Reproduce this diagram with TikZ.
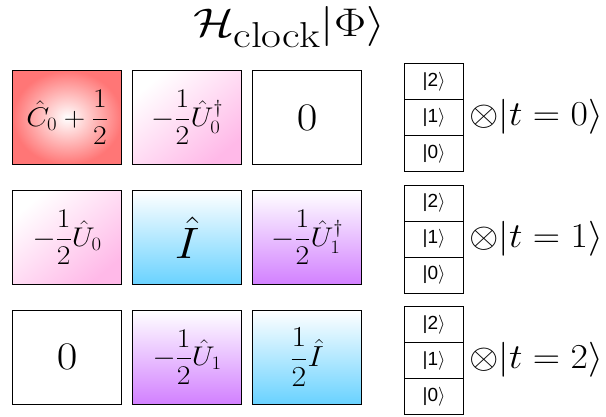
\RequirePackage{fix-cm}
\documentclass[tikz,border=0pt]{standalone}
\usepackage{amsmath}
\usepackage{graphicx}
\usepackage{fontspec}
\newfontfamily\ketfont{Liberation Sans}
\definecolor{redc}{RGB}{255,118,118}
\definecolor{pinkc}{RGB}{255,185,232}
\definecolor{cyanc}{RGB}{105,210,255}
\definecolor{purplec}{RGB}{210,128,255}
\newcommand{\sx}[2]{\scalebox{#1}[1]{#2}}
\tikzset{
  frame/.style={draw=black,line width=1.3pt},
  opbox/.style={frame,minimum width=109pt,minimum height=94pt,inner sep=0pt,anchor=north west},
  redbox/.style={opbox,inner color=white,outer color=redc},
  pinkbox/.style={opbox,top color=white,bottom color=pinkc,shading angle=40},
  cyanbox/.style={opbox,top color=white,bottom color=cyanc},
  purplebox/.style={opbox,top color=white,bottom color=purplec},
  whitebox/.style={opbox,fill=white},
  ketcell/.style={frame,minimum width=59pt,minimum height=36pt,inner sep=0pt,anchor=north west,font=\ketfont\fontsize{19}{22}\selectfont},
  tlabel/.style={anchor=west,inner sep=0pt,font=\fontsize{35}{40}\selectfont},
  mid/.style={font=\fontsize{27}{31}\selectfont},
  big/.style={font=\fontsize{39}{44}\selectfont},
}
\newcommand{\ketlbl}[1]{|#1$\rangle$}
\begin{document}
\begin{tikzpicture}[x=1pt,y=-1pt]
\useasboundingbox (0,0) rectangle (606,416);
\node[inner sep=0pt,anchor=base,font=\fontsize{40}{46}\selectfont] (title) at (289,36) {\sx{1.2}{$\mathcal{H}_{\mbox{\fontsize{36}{36}\selectfont clock}}|\Phi\rangle$}};
% row 1
\node[redbox,mid] (a00) at (12,70) {\sx{1.1}{$\hat{C}_0+\dfrac{1}{2}$}};
\node[pinkbox,mid] (a01) at (132,70) {\sx{1.1}{$-\dfrac{1}{2}\hat{U}_0^\dagger$}};
\node[whitebox,big] (a02) at (252,70) {\sx{1.15}{$0$}};
% row 2
\node[pinkbox,mid] (a10) at (12,190) {\sx{1.1}{$-\dfrac{1}{2}\hat{U}_0$}};
\node[cyanbox,font=\fontsize{44}{50}\selectfont] (a11) at (132,190) {\sx{1.1}{$\hat{I}$}};
\node[purplebox,mid] (a12) at (252,190) {\sx{1.1}{$-\dfrac{1}{2}\hat{U}_1^\dagger$}};
% row 3
\node[whitebox,big] (a20) at (12,309.5) {\sx{1.15}{$0$}};
\node[purplebox,mid] (a21) at (132,309.5) {\sx{1.1}{$-\dfrac{1}{2}\hat{U}_1$}};
\node[cyanbox,font=\fontsize{29}{33}\selectfont] (a22) at (252,309.5) {\sx{1.1}{$\dfrac{1}{2}\hat{I}$}};
% ket stacks
\foreach \r/\y/\t in {0/63/0,1/184.5/1,2/306/2}{
  \node[ketcell] (k\r2) at (404,\y) {\ketlbl{2}};
  \node[ketcell] (k\r1) at (404,\y+36) {\ketlbl{1}};
  \node[ketcell] (k\r0) at (404,\y+72) {\ketlbl{0}};
  \node[tlabel] (t\r) at (469,\y+54) {\sx{1.08}{$\otimes|t=\t\rangle$}};
}
\end{tikzpicture}
\end{document}
